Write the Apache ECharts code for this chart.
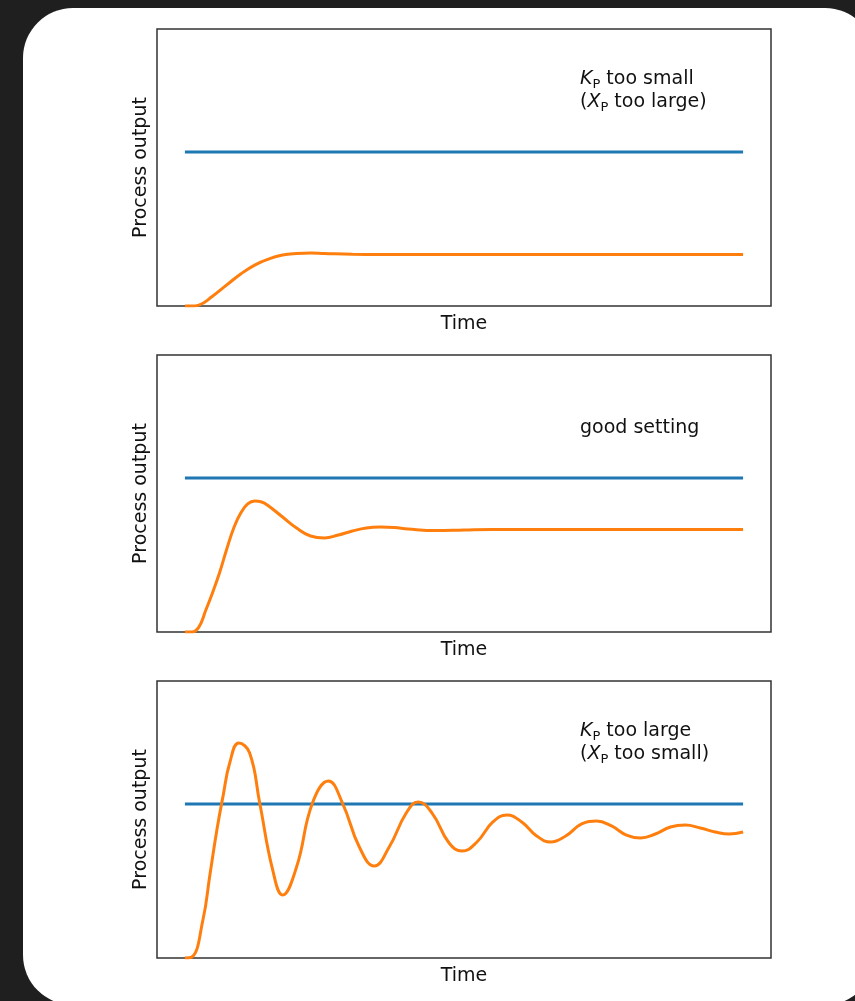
<!DOCTYPE html>
<html>
<head>
<meta charset="utf-8">
<script src="https://cdn.jsdelivr.net/npm/echarts@6/dist/echarts.min.js"></script>
<style>
    html, body { margin: 0; padding: 0; background: #1f1f1f; overflow: hidden; }
    #card { position: absolute; left: 23px; top: 8px; width: 852px; height: 997px; background: #fff; border-radius: 50px; }
    #main { position: absolute; left: 0; top: 0; width: 855px; height: 1001px; }
</style>
</head>
<body>
<div id="card"></div>
<div id="main"></div>
<script>
// setpoint (blue) and process output (orange) for the three tunings
var setTime = [0, 40];
var setValue = [1, 1];

// Kp too small
var timeA = [0, 0.5, 1, 2, 3, 4, 5, 6, 7, 8, 9, 10, 12, 14, 20, 30, 40];
var outA = [0, 0, 0.006, 0.065, 0.137, 0.208, 0.266, 0.305, 0.331, 0.341, 0.344, 0.341, 0.336, 0.335, 0.335, 0.335, 0.335];

// good setting
var timeB = [0, 0.5, 1, 1.5, 2, 2.5, 3, 3.5, 4, 4.5, 5, 5.5, 6, 7, 8, 9, 10, 11, 12, 13, 14, 15, 16, 18, 20, 22, 26, 30, 35, 40];
var outB = [0, 0, 0.032, 0.143, 0.26, 0.39, 0.539, 0.676, 0.773, 0.832, 0.851, 0.845, 0.819, 0.747, 0.676, 0.624, 0.611, 0.63, 0.656, 0.676, 0.682, 0.679, 0.669, 0.659, 0.663, 0.666, 0.666, 0.666, 0.666, 0.666];

// Kp too large
var timeC = [0, 0.5, 1.29, 1.79, 2.29, 2.75, 3.21, 3.86, 4.64, 5.36, 6.29, 7.0, 8.0, 9.14, 10.29, 11.29, 12.5, 13.57, 14.64, 15.86, 16.71, 17.71, 18.93, 19.86, 20.93, 22.07, 23.07, 24.14, 25.21, 26.21, 27.29, 28.43, 29.5, 30.57, 31.64, 32.64, 33.71, 34.79, 35.86, 36.93, 38.0, 39.0, 40];
var outC = [0, 0.006, 0.247, 0.539, 0.832, 1.06, 1.267, 1.397, 1.332, 1.007, 0.572, 0.409, 0.591, 1.007, 1.15, 1.007, 0.721, 0.598, 0.721, 0.942, 1.014, 0.942, 0.747, 0.695, 0.754, 0.884, 0.929, 0.884, 0.793, 0.754, 0.793, 0.871, 0.89, 0.858, 0.799, 0.78, 0.806, 0.851, 0.864, 0.845, 0.819, 0.806, 0.819];

function pairs(t, v) {
    var out = [];
    for (var i = 0; i < t.length; i++) {
        out.push([t[i], v[i]]);
    }
    return out;
}

var font = 'DejaVu Sans';
var tops = [29, 355, 681];
var outs = [pairs(timeA, outA), pairs(timeB, outB), pairs(timeC, outC)];

var grids = [], xAxes = [], yAxes = [], series = [];
for (var i = 0; i < 3; i++) {
    grids.push({
        left: 157, top: tops[i], width: 614, height: 277,
        show: true, borderColor: '#333', borderWidth: 1.5, backgroundColor: 'transparent'
    });
    xAxes.push({
        type: 'value', gridIndex: i, min: -2, max: 42,
        name: 'Time', nameLocation: 'middle', nameGap: 9,
        nameTextStyle: { fontFamily: font, fontSize: 19, color: '#111' },
        axisLine: { show: false }, axisTick: { show: false }, axisLabel: { show: false }, splitLine: { show: false }
    });
    yAxes.push({
        type: 'value', gridIndex: i, min: 0, max: 1.8,
        name: 'Process output', nameLocation: 'middle', nameGap: 6,
        nameTextStyle: { fontFamily: font, fontSize: 19, color: '#111' },
        axisLine: { show: false }, axisTick: { show: false }, axisLabel: { show: false }, splitLine: { show: false }
    });
    series.push({
        type: 'line', xAxisIndex: i, yAxisIndex: i, data: pairs(setTime, setValue),
        showSymbol: false, lineStyle: { color: '#1f77b4', width: 3 }, z: 2
    });
    series.push({
        type: 'line', xAxisIndex: i, yAxisIndex: i, data: outs[i], smooth: 0.45,
        showSymbol: false, lineStyle: { color: '#ff7f0e', width: 3 }, z: 3
    });
}

var rich = {
    i: { fontFamily: font, fontSize: 19, fontStyle: 'italic', fill: '#111', lineHeight: 23 },
    s: { fontFamily: font, fontSize: 13, fill: '#111', verticalAlign: 'bottom', lineHeight: 19 },
    n: { fontFamily: font, fontSize: 19, fill: '#111', lineHeight: 23 }
};
function note(txt, x, y) {
    return {
        type: 'text', x: x, y: y, z: 10,
        style: { text: txt, rich: rich, font: '19px "DejaVu Sans"', fill: '#111', lineHeight: 23, verticalAlign: 'top' }
    };
}

var myChart = echarts.init(document.getElementById('main'), null, { renderer: 'canvas' });
var option = {
    animation: false,
    grid: grids,
    xAxis: xAxes,
    yAxis: yAxes,
    series: series,
    graphic: [
        note('{i|K}{s|P}{n| too small}\n{n|(}{i|X}{s|P}{n| too large)}', 580, 68),
        note('{n|good setting}', 580, 417),
        note('{i|K}{s|P}{n| too large}\n{n|(}{i|X}{s|P}{n| too small)}', 580, 720)
    ]
};
myChart.setOption(option);
</script>
</body>
</html>
